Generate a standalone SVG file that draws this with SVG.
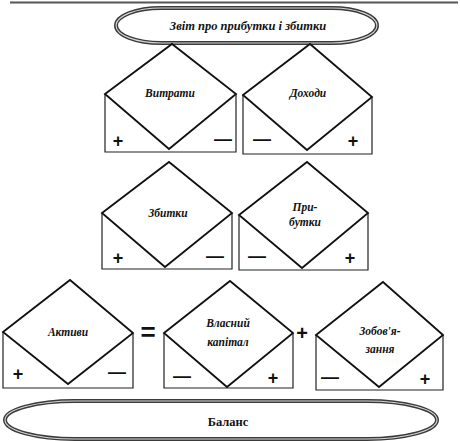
<svg xmlns="http://www.w3.org/2000/svg" width="460" height="441" viewBox="0 0 460 441">
<style>
  .dia { fill: none; stroke: #111; stroke-width: 1.8; stroke-linejoin: miter; }
  .env { fill: none; stroke: #222; stroke-width: 1.2; }
  .lbl { font-family: "Liberation Serif", "DejaVu Serif", serif; font-weight: bold; font-style: italic; font-size: 11.5px; text-anchor: middle; fill: #111; }
  .ttl { font-family: "Liberation Serif", "DejaVu Serif", serif; font-weight: bold; font-style: italic; font-size: 12.5px; text-anchor: middle; fill: #111; }
  .bal { font-family: "Liberation Serif", "DejaVu Serif", serif; font-weight: bold; font-size: 12.5px; text-anchor: middle; fill: #111; }
  .sign { font-family: "Liberation Sans", Arial, sans-serif; font-weight: bold; font-size: 18px; text-anchor: middle; fill: #111; }
  .ovo { fill: #fff; stroke: #3a3a3a; stroke-width: 4; }
  .ovi { fill: none; stroke: #d8d8d8; stroke-width: 1.1; }
</style>
<rect width="460" height="441" fill="#fff"/>
<line x1="10" y1="2.5" x2="458" y2="2.5" stroke="#555" stroke-width="2"/>

<g id="pnl">
  <rect class="ovo" x="116" y="8" width="261" height="35" rx="45" ry="17.5"/>
  <rect class="ovi" x="116" y="8" width="261" height="35" rx="45" ry="17.5"/>
  <text class="ttl" x="248" y="30">Звіт про прибутки і збитки</text>
</g>

<g id="vytraty">
  <path class="env" d="M105,94 V152 H236 V94"/>
  <polygon class="dia" points="105,94 172,44 236,94 169,149"/>
  <text class="lbl" x="170" y="97">Витрати</text>
  <text class="sign" x="118" y="147">+</text>
  <text class="sign" x="223" y="144.5">—</text>
</g>

<g id="dohody">
  <path class="env" d="M243,95 V154 H372 V97"/>
  <polygon class="dia" points="243,95 310,44 372,97 307,150"/>
  <text class="lbl" x="308" y="97">Доходи</text>
  <text class="sign" x="262" y="144.5">—</text>
  <text class="sign" x="353" y="147">+</text>
</g>

<g id="zbytky">
  <path class="env" d="M102,213 V269 H232 V213"/>
  <polygon class="dia" points="102,213 169,162 232,213 165,267"/>
  <text class="lbl" x="168" y="217">Збитки</text>
  <text class="sign" x="118" y="264">+</text>
  <text class="sign" x="215" y="261.5">—</text>
</g>

<g id="prybutky">
  <path class="env" d="M239,215 V270 H368 V213"/>
  <polygon class="dia" points="239,215 307,162 368,213 302,268"/>
  <text class="lbl" x="305" y="211">При-</text>
  <text class="lbl" x="305" y="226">бутки</text>
  <text class="sign" x="257" y="261.5">—</text>
  <text class="sign" x="350" y="264">+</text>
</g>

<g id="aktyvy">
  <path class="env" d="M3,332 V388 H133 V333"/>
  <polygon class="dia" points="3,332 70,280 133,333 68,384"/>
  <text class="lbl" x="68" y="336">Активи</text>
  <text class="sign" x="18" y="380">+</text>
  <text class="sign" x="117" y="377.5">—</text>
</g>

<g id="vlasnyi">
  <path class="env" d="M164,333 V388 H293 V333"/>
  <polygon class="dia" points="164,333 230,281 293,333 227,387"/>
  <text class="lbl" x="228" y="327">Власний</text>
  <text class="lbl" x="228" y="346">капітал</text>
  <text class="sign" x="182" y="381.5">—</text>
  <text class="sign" x="273" y="384">+</text>
</g>

<g id="zobovyazannya">
  <path class="env" d="M316,335 V390 H443 V335"/>
  <polygon class="dia" points="316,335 383,282 443,335 379,387"/>
  <text class="lbl" x="380" y="335">Зобов'я-</text>
  <text class="lbl" x="380" y="353">зання</text>
  <text class="sign" x="330" y="382.5">—</text>
  <text class="sign" x="425" y="385">+</text>
</g>

<g id="operators">
  <text class="sign" x="148" y="341" style="font-size:26px">=</text>
  <text class="sign" x="302" y="340" style="font-size:20px">+</text>
</g>

<g id="balans">
  <rect class="ovo" x="5" y="401" width="432" height="38" rx="70" ry="19"/>
  <rect class="ovi" x="5" y="401" width="432" height="38" rx="70" ry="19"/>
  <text class="bal" x="228" y="426">Баланс</text>
</g>

<g id="connectors"></g>
</svg>
